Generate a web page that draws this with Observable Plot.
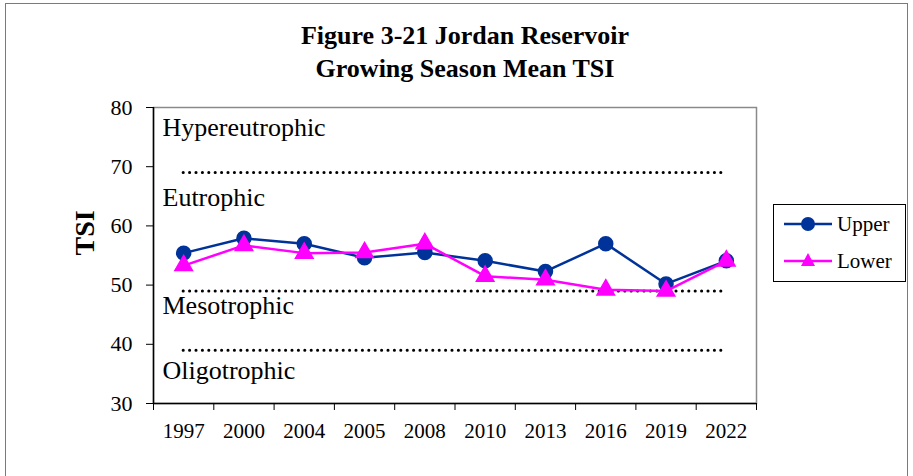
<!DOCTYPE html>
<html>
<head>
<meta charset="utf-8">
<script src="https://cdn.jsdelivr.net/npm/d3@7"></script>
<script src="https://cdn.jsdelivr.net/npm/@observablehq/plot@0.6"></script>
<style>
  html, body { margin: 0; padding: 0; background: #fff; }
  #wrap { position: relative; width: 913px; height: 476px; overflow: hidden; font-family: "Liberation Serif", "Times New Roman", serif; }
  #outer { position: absolute; left: 5px; top: 3px; width: 903px; height: 490px; border: 1.5px solid #7a7a7a; box-sizing: border-box; }
  #title { position: absolute; left: 0; top: 19px; width: 930px; text-align: center; font-weight: bold; font-size: 26px; line-height: 33px; color: #000; }
  #chart { position: absolute; left: 0; top: 0; }
  #legend { position: absolute; left: 773px; top: 204px; width: 133px; height: 78px; border: 1.5px solid #000; box-sizing: border-box; background: #fff; }
  .item { position: absolute; left: 10px; display: flex; align-items: center; font-size: 21px; }
  .item svg { margin-right: 5px; }
</style>
</head>
<body>
<div id="wrap">
  <div id="outer"></div>
  <div id="chart"></div>
  <div id="title">Figure 3-21 Jordan Reservoir<br>Growing Season Mean TSI</div>
  <div id="legend"></div>
</div>
<script>
const years = ["1997", "2000", "2004", "2005", "2008", "2010", "2013", "2016", "2019", "2022"];
const upper = [55.4, 57.9, 57.0, 54.6, 55.5, 54.1, 52.3, 57.0, 50.2, 54.1];
const lower = [53.3, 56.7, 55.4, 55.5, 57.0, 51.5, 50.9, 49.2, 49.0, 54.1];
const yTicks = [30, 40, 50, 60, 70, 80];
const boundaries = [69, 49, 39];
const zoneLabels = ["Hypereutrophic", "Eutrophic", "Mesotrophic", "Oligotrophic"];
const zoneLabelY = [76.6, 64.7, 46.5, 35.5];
const seriesNames = ["Upper", "Lower"];
const seriesColors = ["#003399", "#ff00ff"];

const upperData = years.map((yr, i) => ({i, v: upper[i]}));
const lowerData = years.map((yr, i) => ({i, v: lower[i]}));
const labelData = zoneLabels.map((t, k) => ({t, y: zoneLabelY[k]}));
const idx = d3.range(years.length);
const bounds = d3.range(years.length + 1).map(k => k - 0.5);

const chart = Plot.plot({
  width: 913,
  height: 476,
  marginLeft: 153,
  marginRight: 157,
  marginTop: 107,
  marginBottom: 73,
  style: {fontFamily: "'Liberation Serif', 'Times New Roman', serif", background: "transparent", color: "#000"},
  x: {type: "linear", domain: [-0.5, years.length - 0.5]},
  y: {domain: [30, 80]},
  marks: [
    Plot.frame({stroke: "#8a8a8a", strokeWidth: 1.5}),
    Plot.ruleY(boundaries, {x1: 0, x2: years.length - 1, stroke: "#000", strokeWidth: 3, strokeDasharray: "0.1 6.3", strokeLinecap: "round"}),
    Plot.text(labelData, {x: -0.5, y: "y", text: "t", dx: 9, textAnchor: "start", fontSize: 26, fill: "#000"}),
    Plot.ruleY([30], {stroke: "#000", strokeWidth: 1.5}),
    Plot.ruleX([-0.5], {stroke: "#000", strokeWidth: 1.5}),
    Plot.axisY({ticks: yTicks, tickSize: 7, tickPadding: 14, fontSize: 22, label: null, stroke: "#000"}),
    Plot.axisX({ticks: bounds, tickSize: 7, text: null, label: null, stroke: "#000"}),
    Plot.axisX({ticks: idx, tickSize: 0, tickPadding: 20, tickFormat: i => years[i], fontSize: 21, label: null}),
    Plot.text(["TSI"], {frameAnchor: "left", dx: -68, rotate: -90, fontSize: 28, fontWeight: "bold", fill: "#000"}),
    Plot.line(upperData, {x: "i", y: "v", stroke: seriesColors[0], strokeWidth: 2.5}),
    Plot.dot(upperData, {x: "i", y: "v", r: 7, fill: seriesColors[0], stroke: seriesColors[0]}),
    Plot.line(lowerData, {x: "i", y: "v", stroke: seriesColors[1], strokeWidth: 2.5}),
    Plot.dot(lowerData, {x: "i", y: "v", symbol: "triangle", r: 6.5, fill: seriesColors[1], stroke: seriesColors[1]})
  ]
});
document.getElementById("chart").appendChild(chart);

const legend = document.getElementById("legend");
seriesNames.forEach((name, k) => {
  const item = document.createElement("div");
  item.className = "item";
  item.style.top = (k === 0 ? 6 : 43) + "px";
  const marker = k === 0
    ? `<circle cx="24" cy="13" r="7" fill="${seriesColors[k]}"/>`
    : `<path d="M24,5 L31,18 L17,18 Z" fill="${seriesColors[k]}"/>`;
  item.innerHTML = `<svg width="48" height="26"><line x1="0" x2="48" y1="13" y2="13" stroke="${seriesColors[k]}" stroke-width="2.5"/>${marker}</svg><span>${name}</span>`;
  legend.appendChild(item);
});
</script>
</body>
</html>
